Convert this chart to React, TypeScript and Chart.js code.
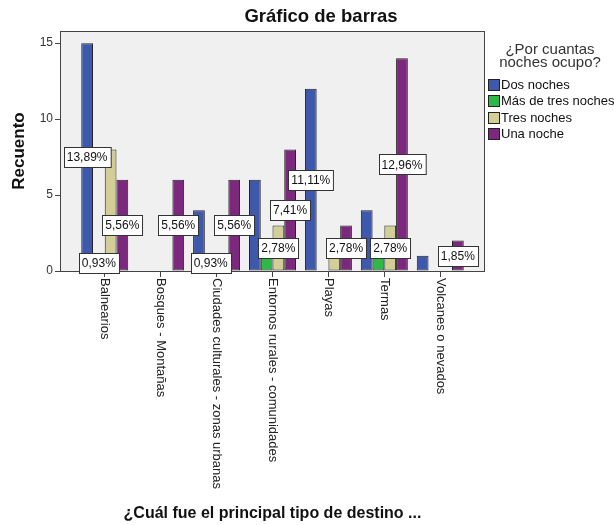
import React, { useEffect, useRef } from 'react';
import { Chart, registerables } from 'chart.js';

Chart.register(...registerables);

const categories = [
  'Balnearios',
  'Bosques - Montañas',
  'Ciudades culturales - zonas urbanas',
  'Entornos rurales - comunidades',
  'Playas',
  'Termas',
  'Volcanes o nevados',
];
const seriesNames = ['Dos noches', 'Más de tres noches', 'Tres noches', 'Una noche'];
const dosNoches = [15, 0, 4, 6, 12, 4, 1];
const masDeTresNoches = [1, 0, 1, 1, 0, 1, 0];
const tresNoches = [8, 0, 1, 3, 2, 3, 0];
const unaNoche = [6, 6, 6, 8, 3, 14, 2];
const yTicks = [0, 5, 10, 15];
// [series index, category index] of the bars whose percentage label is visible
const labelledBars: [number, number][] = [
  [0, 0], [3, 0], [1, 0],
  [3, 1],
  [1, 2], [3, 2],
  [3, 3], [2, 3],
  [0, 4], [3, 4],
  [3, 5], [2, 5],
  [3, 6],
];
const colors = ['#3E58AC', '#2EB848', '#D3CE97', '#7C287D'];
const chartTitle = 'Gráfico de barras';
const yTitle = 'Recuento';
const xTitle = '¿Cuál fue el principal tipo de destino ...';
const legendTitle = ['¿Por cuantas', 'noches ocupo?'];

const FONT = '"Liberation Sans", Arial, sans-serif';

const allSeries = [dosNoches, masDeTresNoches, tresNoches, unaNoche];
const total = allSeries.flat().reduce((s, v) => s + v, 0);
const pct = (v: number) => ((v / total) * 100).toFixed(2).replace('.', ',') + '%';

const spssPlugin = {
  id: 'spss',
  beforeDatasetsDraw(chart: any) {
    const { ctx, chartArea: a } = chart;
    ctx.save();
    ctx.fillStyle = '#F0F0F0';
    ctx.fillRect(a.left, a.top, a.right - a.left, a.bottom - a.top);
    ctx.restore();
  },
  afterDatasetsDraw(chart: any) {
    const { ctx, chartArea: a } = chart;
    ctx.save();
    ctx.strokeStyle = '#444';
    ctx.lineWidth = 1;
    ctx.strokeRect(a.left + 0.5, a.top + 0.5, a.right - a.left - 1, a.bottom - a.top);
    // value labels
    ctx.font = `12px ${FONT}`;
    ctx.textAlign = 'center';
    ctx.textBaseline = 'middle';
    labelledBars.forEach(([ds, cat]) => {
      const el = chart.getDatasetMeta(ds).data[cat];
      const v = allSeries[ds][cat];
      if (!el || !v) return;
      const txt = pct(v);
      const w = ctx.measureText(txt).width + 6;
      const h = 20;
      const cx = el.x;
      const cy = (el.y + el.base) / 2;
      const x0 = Math.round(cx - w / 2) + 0.5;
      const y0 = Math.round(cy - h / 2) + 0.5;
      ctx.fillStyle = '#fff';
      ctx.fillRect(x0, y0, w, h);
      ctx.strokeStyle = '#333';
      ctx.strokeRect(x0, y0, w, h);
      ctx.fillStyle = '#111';
      ctx.fillText(txt, cx, cy + 1);
    });
    ctx.restore();
  },
  afterDraw(chart: any) {
    const { ctx, chartArea: a } = chart;
    const xs = chart.scales.x;
    ctx.save();
    ctx.fillStyle = '#111';
    // chart title
    ctx.font = `bold 18.5px ${FONT}`;
    ctx.textAlign = 'center';
    ctx.textBaseline = 'alphabetic';
    ctx.fillText(chartTitle, 321, 22);
    // x title
    ctx.font = `bold 16px ${FONT}`;
    ctx.fillText(xTitle, (a.left + a.right) / 2, 518);
    // y title
    ctx.save();
    ctx.font = `bold 17px ${FONT}`;
    ctx.translate(24, (a.top + a.bottom) / 2);
    ctx.rotate(-Math.PI / 2);
    ctx.textAlign = 'center';
    ctx.fillText(yTitle, 0, 0);
    ctx.restore();
    // category labels, rotated clockwise
    ctx.font = `13px ${FONT}`;
    ctx.fillStyle = '#222';
    categories.forEach((c, i) => {
      const x = xs.getPixelForValue(i);
      ctx.save();
      ctx.translate(x, a.bottom + 7);
      ctx.rotate(Math.PI / 2);
      ctx.textAlign = 'left';
      ctx.textBaseline = 'middle';
      ctx.fillText(c, 0, 0);
      ctx.restore();
    });
    // legend
    ctx.font = `15px ${FONT}`;
    ctx.fillStyle = '#333';
    ctx.textAlign = 'center';
    ctx.textBaseline = 'alphabetic';
    legendTitle.forEach((t, i) => ctx.fillText(t, 550, 54 + i * 13));
    ctx.font = `13px ${FONT}`;
    ctx.textAlign = 'left';
    ctx.textBaseline = 'middle';
    chart.data.datasets.forEach((d: any, i: number) => {
      const y = 79 + i * 16.3;
      ctx.fillStyle = d.backgroundColor;
      ctx.fillRect(488.5, Math.round(y) + 0.5, 11, 11);
      ctx.strokeStyle = '#222';
      ctx.strokeRect(488.5, Math.round(y) + 0.5, 11, 11);
      ctx.fillStyle = '#111';
      ctx.fillText(d.label, 501, Math.round(y) + 6.5);
    });
    ctx.restore();
  },
};

export default function App() {
  const ref = useRef<HTMLCanvasElement>(null);
  useEffect(() => {
    document.body.style.margin = '0';
    const chart = new Chart(ref.current!, {
      type: 'bar',
      data: {
        datasets: allSeries.map((s, k) => ({
          label: seriesNames[k],
          data: s.map((v, i) => ({ x: i, y: v === 0 ? null : v })),
          backgroundColor: colors[k],
          borderColor: '#222',
          borderWidth: 1,
          borderSkipped: false,
          categoryPercentage: 0.84,
          barPercentage: 1,
        })),
      },
      options: {
        animation: false,
        responsive: false,
        events: [],
        layout: { padding: { top: 31, right: 129, left: 0, bottom: 0 } },
        plugins: { legend: { display: false }, tooltip: { enabled: false }, title: { display: false } },
        scales: {
          x: {
            type: 'linear',
            min: -0.8,
            max: 6.8,
            offset: false,
            afterBuildTicks: (s: any) => { s.ticks = categories.map((_, i) => ({ value: i })); },
            afterFit: (s: any) => { s.height = 254; },
            ticks: { display: false },
            border: { display: false },
            grid: { offset: false, drawOnChartArea: false, drawTicks: true, tickLength: 6, color: '#444' },
          },
          y: {
            min: 0,
            max: 15.8,
            afterBuildTicks: (s: any) => { s.ticks = yTicks.map((v) => ({ value: v })); },
            afterFit: (s: any) => { s.width = 60; },
            ticks: { color: '#333', font: { family: FONT, size: 12 }, padding: 2 },
            border: { display: false },
            grid: { drawOnChartArea: false, drawTicks: true, tickLength: 5, color: '#444' },
          },
        },
      } as any,
      plugins: [spssPlugin],
    });
    return () => chart.destroy();
  }, []);
  return (
    <div style={{ width: 614, height: 525 }}>
      <canvas ref={ref} width={614} height={525} style={{ display: 'block' }} />
    </div>
  );
}
